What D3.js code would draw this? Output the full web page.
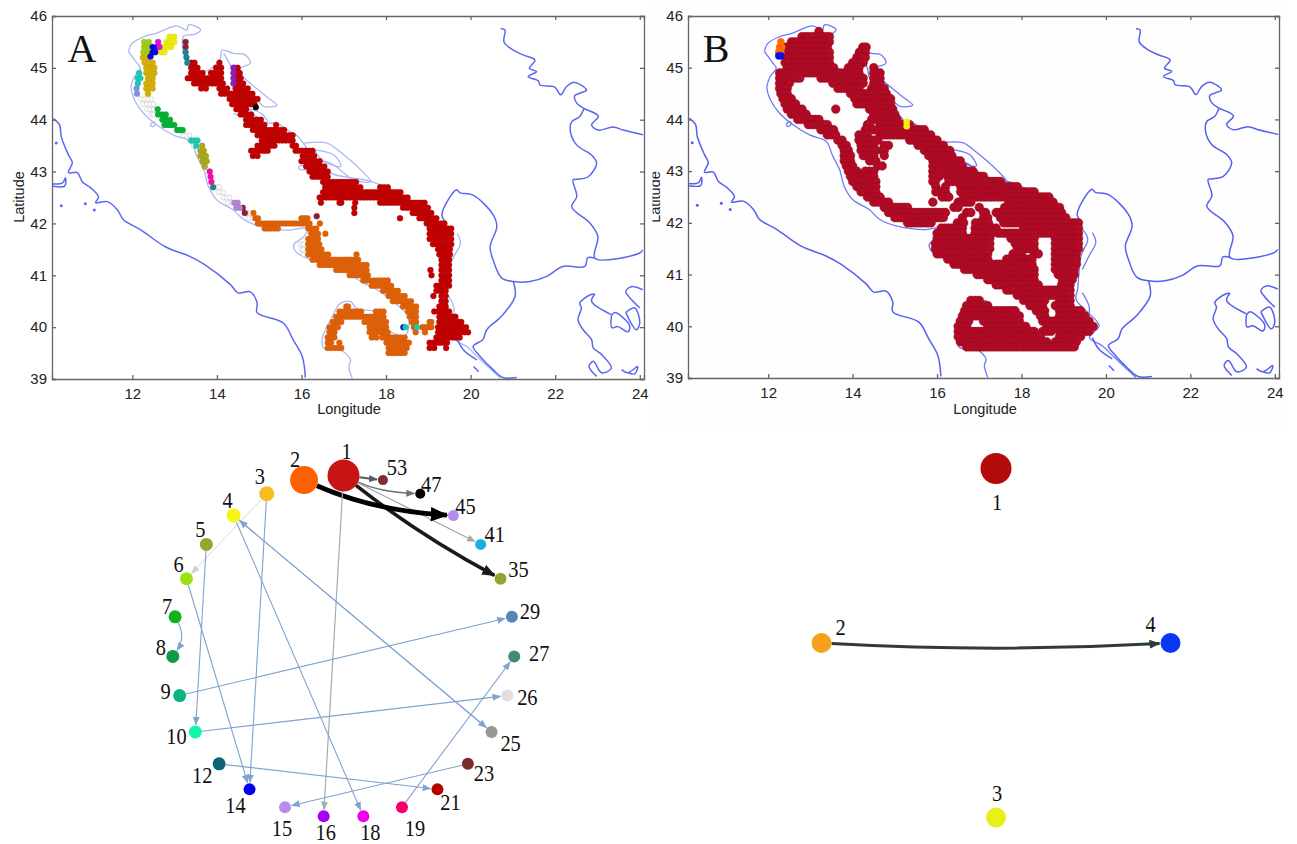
<!DOCTYPE html>
<html>
<head>
<meta charset="utf-8">
<script src="https://cdn.jsdelivr.net/npm/d3@7/dist/d3.min.js"></script>
<style>
  html, body { margin: 0; padding: 0; background: #fff; }
  svg { display: block; }
  .axis text { font-family: "Liberation Sans", Arial, sans-serif; font-size: 15px; fill: #222; }
  .axis path, .axis line { stroke: #666; stroke-width: 1.3; }
  .axis-title { font-family: "Liberation Sans", Arial, sans-serif; font-size: 14.5px; fill: #222; }
  .letter { font-family: "Liberation Serif", serif; font-size: 40px; fill: #111; }
  .node-label { font-family: "Liberation Serif", serif; font-size: 24px; fill: #111; text-anchor: middle; }
</style>
</head>
<body>
<svg id="fig" width="1297" height="844"></svg>
<script>
/* ---- map lines, [lon, lat] ---- */
const landBorderWest = [[10.13,44.02],[10.28,43.90],[10.32,43.67],[10.49,43.32],[10.58,43.17],[10.49,42.98],[10.70,42.98],[10.82,42.80],[11.01,42.69],[11.20,42.51],[11.13,42.40],[11.41,42.42],[11.65,42.26],[11.79,42.07],[12.19,41.88],[12.78,41.55],[13.37,41.36],[13.72,41.20],[14.32,40.82],[14.50,40.66],[14.79,40.68],[14.95,40.47],[14.95,40.28],[15.57,40.08],[15.80,39.76],[16.02,39.43],[16.09,39.03]];
const landBorderIsle = [[10.1,42.76],[10.35,42.78],[10.42,42.88],[10.4,42.72],[10.1,42.72]];
const landBorderNorth = [[20.71,45.76],[20.81,45.73],[20.79,45.50],[21.01,45.34],[21.24,45.25],[21.52,45.15],[21.39,44.99],[21.56,44.93],[21.36,44.83],[21.60,44.75],[21.64,44.67],[21.99,44.63],[22.13,44.48],[22.27,44.64],[22.46,44.72],[22.74,44.57],[22.58,44.51],[22.46,44.46],[22.51,44.32],[22.68,44.22],[23.02,44.07],[22.86,43.90],[23.02,43.80],[23.37,43.86],[23.61,43.80],[24.08,43.71]];
const landBorderMid = [[22.68,44.22],[22.58,44.06],[22.39,43.96],[22.36,43.77],[22.51,43.51],[22.86,43.32],[22.98,43.16],[22.78,42.90],[22.51,42.85],[22.42,42.84],[22.51,42.52],[22.39,42.32],[22.82,42.01],[23.01,41.75],[22.94,41.33],[24.0,41.43],[24.07,41.49]];
const landBorderAlbania = [[22.94,41.33],[22.77,41.34],[22.70,41.17],[22.18,41.17],[21.80,40.98],[21.40,40.88],[21.01,40.88],[20.73,40.95],[20.53,41.30],[20.46,41.55],[20.62,41.94],[20.53,42.17],[20.05,42.55],[19.75,42.59],[19.67,42.65],[19.32,42.17],[19.43,42.01]];
const landBorderGreece = [[21.01,40.88],[21.05,40.59],[20.73,40.21],[20.38,39.95],[20.29,39.76],[20.06,39.63],[20.22,39.44],[20.53,39.18],[20.76,39.03],[21.09,39.03]];
const aegeanCoast = [[22.94,40.64],[22.82,40.62],[22.58,40.46],[22.62,40.37],[22.54,40.14],[22.66,39.95],[22.86,39.76],[22.90,39.60],[23.10,39.47],[23.33,39.21],[23.10,39.12],[22.90,39.34],[22.80,39.24],[22.98,39.05]];
const aegeanGulf = [[22.94,40.64],[22.86,40.50],[23.33,40.24]];
const aegeanLoopA = [[23.33,40.22],[23.41,40.28],[23.76,40.03],[23.72,39.91],[23.48,40.01],[23.34,39.99],[23.33,40.22]];
const aegeanLoopB = [[24.07,40.72],[23.80,40.78],[23.67,40.69],[23.76,40.57],[24.0,40.37]];
const aegeanLoopC = [[23.67,40.28],[23.88,40.37],[24.0,40.08],[23.92,39.95],[23.67,40.28]];
const aegeanLoopD = [[23.57,39.18],[23.72,39.12],[23.95,39.24],[23.88,39.10],[23.72,39.12]];
const italyCoast = [[11.91,45.31],[12.11,45.09],[12.19,44.99],[12.05,44.83],[11.97,44.62],[12.07,44.35],[12.27,44.12],[12.58,43.90],[12.98,43.70],[13.37,43.58],[13.53,43.29],[13.69,43.03],[13.80,42.71],[14.0,42.45],[14.39,42.26],[14.64,42.07],[15.03,41.94],[15.66,41.87],[16.17,41.91],[16.06,41.75],[15.82,41.59],[15.86,41.46],[16.13,41.33],[16.61,41.20],[17.08,41.04],[17.47,40.85],[17.87,40.68],[18.18,40.49],[18.50,40.23],[18.54,40.01],[18.42,39.82],[18.18,39.88],[18.02,39.95],[17.87,40.27],[17.31,40.36],[17.16,40.49],[16.92,40.46],[16.69,40.14],[16.49,39.78],[16.53,39.59],[16.92,39.56],[17.16,39.37],[17.12,39.24],[17.20,39.01]];
const italyLoop = [[12.42,43.9],[12.5,43.96],[12.55,43.92],[12.47,43.86],[12.42,43.9]];
const istriaCoast = [[11.91,45.31],[11.99,45.47],[12.27,45.60],[12.58,45.67],[12.90,45.78],[13.06,45.81],[13.29,45.73],[13.33,45.83],[13.61,45.74],[13.49,45.65],[13.21,45.61],[13.20,45.34],[13.29,45.12],[13.53,44.99],[13.69,44.93],[13.92,45.02],[14.08,45.18],[14.12,45.34],[14.39,45.28],[14.67,45.25],[14.79,45.09],[14.55,44.99],[14.59,44.86],[14.94,44.60],[15.18,44.44],[15.42,44.28],[15.10,44.26],[14.87,44.48],[14.55,44.64],[14.39,44.83],[14.35,44.99],[14.16,45.28]];
const dalmatiaCoast = [[14.39,44.12],[15.10,43.93],[15.42,43.93],[15.73,43.77],[15.91,43.68],[16.30,43.26],[16.69,42.97],[17.64,42.81],[18.43,42.52],[19.06,42.07],[19.45,41.87],[19.57,41.68],[19.41,41.36],[19.33,40.72],[19.29,40.52],[19.49,40.33],[19.84,40.01],[19.61,39.78],[19.92,39.62],[20.16,39.43],[20.71,39.01]];
const islandsA = [[16.06,43.55],[16.61,43.55],[16.85,43.42],[17.48,42.97],[17.64,42.81],[17.24,42.84],[16.69,43.16],[16.30,43.23]];
const islandsB = [[16.30,43.42],[16.77,43.32],[16.93,43.10],[16.54,43.19],[16.30,43.42]];
const islandsC = [[15.94,43.10],[16.14,43.13],[16.14,43.05],[15.94,43.05],[15.94,43.10]];
const islandsD = [[14.73,44.22],[15.09,43.96],[15.2,43.96],[15.05,44.12],[14.73,44.22]];
const albaniaShelf = [[19.68,41.81],[19.76,41.62],[19.6,41.36],[19.44,41.1]];
const albaniaShelfB = [[19.44,40.65],[19.6,40.39],[19.6,40.2]];
const ionianShelf = [[19.68,39.78],[19.83,39.56],[20.15,39.37]];
const corfu = [[20.07,39.24],[20.19,39.14]];
const lakeDots = [[10.32,42.34],[10.89,42.38],[11.10,42.26],[10.2,43.55]];

/* ---- panel A clusters, rows are [lat, lon0, lon1, lon0, lon1 ...] ---- */
const clusterRed = [
  [45.1,13.33,13.53,14.0,14.16],[45.0,13.33,13.6,13.92,14.16,14.35,14.55],[44.9,13.33,13.72,13.8,14.16,14.35,14.6],
  [44.8,13.25,14.16,14.35,14.62],[44.7,13.4,14.2,14.38,14.68],[44.6,13.57,13.8,14.0,14.3,14.38,14.79],
  [44.5,14.04,14.9],[44.4,14.24,15.02],[44.3,14.3,14.95],[44.2,14.4,14.75],[44.1,14.5,14.87],[44.0,14.63,15.1],
  [43.9,14.63,15.18,15.34,15.5],[43.8,14.79,15.65],[43.7,14.9,15.85],[43.6,15.0,15.85],[43.5,14.9,15.42,15.73,15.93],
  [43.4,14.75,15.26,15.8,16.32],[43.3,14.79,15.02,15.97,16.36],[43.2,15.94,16.49],[43.1,16.05,16.6],[43.0,16.13,16.68],
  [42.9,16.2,16.68],[42.8,16.45,17.35],[42.7,16.5,17.45,17.8,18.1],[42.6,16.45,18.4],[42.5,16.37,18.57],
  [42.4,16.4,16.53,16.84,17.0,17.24,17.3,17.8,18.97],[42.3,17.2,17.3,18.34,19.05],[42.2,17.2,17.3,18.57,19.13],
  [42.1,18.3,18.36,18.73,19.25],[42.0,18.9,19.44],[41.9,18.97,19.6],[41.8,18.97,19.6],[41.7,18.97,19.6],[41.6,19.05,19.6],
  [41.5,19.17,19.57],[41.4,19.2,19.57],[41.3,19.25,19.55],[41.2,19.25,19.55],[41.1,19.0,19.1,19.25,19.55],[41.0,19.05,19.1,19.25,19.55],
  [40.9,19.25,19.55],[40.8,19.13,19.55],[40.7,19.13,19.47],[40.6,19.08,19.16,19.25,19.47],[40.5,19.25,19.47],[40.4,19.2,19.47],
  [40.3,19.08,19.55],[40.2,19.2,19.7],[40.1,19.2,19.84],[40.0,19.17,19.95],[39.9,19.17,20.0],[39.8,19.13,19.8],
  [39.7,18.97,19.5],[39.6,18.97,19.2,19.37,19.47]
];
const clusterOrange = [
  [42.2,14.83,14.9],[42.1,14.85,15.03,15.94,16.2],[42.0,14.91,16.25,16.4,16.47],[41.9,15.07,15.5,16.1,16.41],[41.8,16.17,16.45,16.53,16.6],
  [41.7,16.1,16.45],[41.6,16.1,16.48],[41.5,16.1,16.53],[41.4,16.1,16.69,17.25,17.35],[41.3,16.2,17.4],[41.2,16.37,17.6],
  [41.1,16.76,17.6],[41.0,17.08,17.63],[40.9,17.4,18.1],[40.8,17.6,18.18],[40.7,17.87,18.34],[40.6,18.0,18.5],[40.5,18.1,18.65],
  [40.4,17.0,17.16,18.34,18.77],[40.3,16.84,17.47,17.7,18.0,18.46,18.77],[40.2,16.76,18.0,18.5,18.77],
  [40.1,16.68,17.0,17.43,18.06,18.55,18.77,18.97,19.13],[40.0,16.6,16.92,17.55,18.06,18.6,18.77,18.8,19.13],
  [39.9,16.6,16.84,17.55,18.1,18.65,18.75,18.88,18.96],[39.8,16.56,16.84,17.6,17.83,17.85,18.5],[39.7,16.56,16.76,16.84,16.95,17.95,18.6],
  [39.6,16.56,17.0,18.0,18.55],[39.5,18.0,18.5]
];
const clusterGrey = [
  [44.4,12.15,12.5],[44.3,12.2,12.55],[44.2,12.3,12.55],[44.1,12.4,12.55],[43.8,13.05,13.2],[43.7,13.15,13.4],[43.5,13.4,13.5],
  [43.1,13.7,13.75],[43.0,13.72,13.85],[42.7,13.95,14.1],[42.6,14.0,14.2],[42.5,14.1,14.35],[42.4,14.2,14.4],[42.2,14.6,14.85],[42.1,14.7,14.9],
  [41.6,15.93,16.1],[41.5,15.95,16.1],[41.4,16.0,16.1]
];
const clusterGold = [[45.2,12.19,12.43],[45.1,12.23,12.54],[45.0,12.27,12.58],[44.9,12.27,12.58],[44.8,12.31,12.54],[44.7,12.27,12.54],[44.6,12.27,12.54],[44.5,12.31,12.43]];
const clusterLime = [[45.5,12.22,12.45],[45.4,12.22,12.42],[45.3,12.2,12.42]];
const clusterYellow = [[45.6,12.82,13.05],[45.5,12.75,13.05],[45.4,12.65,12.98],[45.3,12.62,12.82]];
const clusterBlue = [[45.4,12.42,12.65],[45.3,12.42,12.6],[45.22,12.4,12.46],[40.0,18.38,18.44]];
const clusterMagenta = [[45.5,12.55,12.7],[45.4,12.58,12.72]];
const clusterMaroon = [[45.5,13.2,13.35],[45.4,13.2,13.35],[42.3,14.55,14.7],[42.2,14.6,14.75],[42.14,16.33,16.39]];
const clusterTeal = [[45.3,13.2,13.35],[45.2,13.22,13.35],[45.1,13.25,13.35],[42.7,13.85,13.97]];
const clusterTurquoise = [[44.9,12.1,12.25],[44.8,12.07,12.25],[44.7,12.07,12.22],[43.6,13.33,13.6],[43.5,13.45,13.6],[40.0,18.43,18.49],[40.0,18.7,18.76]];
const clusterSteel = [[44.6,12.07,12.13],[44.5,12.07,12.15]];
const clusterGreen = [[44.2,12.55,12.65],[44.1,12.55,12.85],[44.0,12.65,12.95],[43.9,12.7,13.05],[43.8,13.0,13.25]];
const clusterOlive = [[43.5,13.6,13.7],[43.4,13.55,13.75],[43.3,13.55,13.8],[43.2,13.6,13.82],[43.1,13.65,13.8]];
const clusterPink = [[43.0,13.78,13.88],[42.9,13.8,13.9],[42.8,13.82,13.92]];
const clusterLilac = [[42.4,14.35,14.55],[42.3,14.4,14.6]];
const clusterViolet = [[45.0,14.36,14.42],[44.9,14.36,14.42],[44.8,14.36,14.42],[44.7,14.36,14.42]];
const clusterBlack = [[44.24,14.89,14.95]];

/* ---- panel B clusters ---- */
const clusterBMain = [
  [45.7,13.2,13.2],[45.6,12.8,13.45],[45.5,12.55,13.45],[45.4,12.43,13.4,14.24,14.32],[45.3,12.43,13.0,13.12,13.45,14.16,14.3],
  [45.2,12.43,12.8,12.95,13.05,13.2,13.45,14.1,14.3],[45.1,12.4,13.45,14.0,14.25],[45.0,12.45,13.55,13.9,14.15,14.5,14.5],
  [44.9,12.27,12.6,12.8,13.7,13.8,14.15,14.5,14.65],[44.8,12.27,12.75,13.25,14.25,14.5,14.65],[44.7,12.27,12.5,13.53,14.25,14.5,14.65],
  [44.6,12.27,12.45,13.65,14.15,14.45,14.75],[44.5,12.3,12.45,13.95,14.8],[44.4,12.35,12.55,14.05,14.9],[44.3,12.4,12.65,14.1,14.9],
  [44.2,12.45,12.8,13.6,13.6,14.4,14.95],[44.1,12.55,12.9,14.5,15.0],[44.0,12.7,13.2,14.45,15.05],[43.9,12.95,13.4,14.35,14.4,14.65,15.35],
  [43.8,13.25,13.55,14.3,14.35,14.5,14.7,14.9,15.7],[43.7,13.4,13.6,14.15,14.35,14.65,15.85],[43.6,13.65,13.75,14.15,14.6,15.35,16.0],
  [43.5,13.75,13.85,14.2,14.5,14.75,14.85,15.55,16.15],[43.4,13.8,13.9,14.2,14.55,14.7,14.75,15.7,16.3],[43.3,13.8,13.95,14.25,14.5,14.75,14.75,15.8,16.35],
  [43.2,13.8,13.95,14.4,14.55,15.9,16.55],[43.1,13.85,14.0,14.6,14.7,15.9,16.6],[43.0,13.9,14.1,14.3,14.5,15.9,16.85],
  [42.9,13.95,14.5,15.9,16.05,16.25,17.1],[42.8,14.0,14.55,15.9,15.96,16.28,17.5],[42.7,14.1,14.55,15.97,16.0,16.2,16.23,16.56,17.9],
  [42.6,14.2,14.55,15.97,16.2,16.56,18.3],[42.5,14.35,14.65,16.12,16.28,16.63,18.65],[42.4,14.5,14.85,15.9,15.9,16.5,16.8,17.7,18.75],
  [42.3,14.75,15.3,16.4,16.5,17.0,17.0,17.6,18.9],[42.2,14.85,16.2,16.7,16.8,17.1,17.15,17.4,18.95],[42.1,15.0,16.15,16.6,16.6,17.1,17.2,17.5,19.05],
  [42.0,15.3,15.86,16.48,16.63,16.91,17.22,17.58,19.35],[41.9,16.1,16.6,16.9,17.4,18.05,19.35],[41.8,16.0,16.6,16.9,17.3,17.45,19.35],
  [41.7,16.0,17.25,17.75,18.3,18.8,19.35],[41.6,15.96,17.25,17.85,18.3,18.8,19.35],[41.5,15.96,17.25,17.9,18.3,18.8,19.35],
  [41.4,16.0,17.2,17.8,18.0,18.3,18.4,18.8,19.3],[41.3,16.25,17.2,17.65,18.25,18.8,19.3],[41.2,16.4,17.3,17.4,18.25,18.8,19.3],
  [41.1,16.65,18.3,18.8,19.25],[41.0,16.95,18.3,18.87,19.25],[40.9,17.2,18.3,18.97,19.2],[40.8,17.4,18.4,18.95,19.15],[40.7,17.65,19.15],[40.6,17.9,19.15],
  [40.5,16.8,17.0,18.05,18.55,18.9,19.15],[40.4,16.7,17.2,18.2,18.5,18.8,19.15],[40.3,16.65,17.85,18.35,18.55,18.9,19.4],
  [40.2,16.6,17.95,18.45,18.55,18.9,19.5],[40.1,16.55,16.75,17.1,17.95,18.5,18.75,18.8,19.6],[40.0,16.5,16.7,17.2,18.1,18.6,18.95,19.05,19.7],
  [39.9,16.5,18.3,18.5,18.7,18.9,19.6],[39.8,16.5,18.45,18.9,19.4],[39.7,16.55,18.6,18.8,19.3],[39.6,16.7,19.25]
];
const clusterBOrange = [[45.5,12.3,12.32],[45.4,12.27,12.32],[45.3,12.25,12.3]];
const clusterBBlue = [[45.23,12.25,12.3]];
const clusterBYellow = [[43.95,15.28,15.3],[43.87,15.28,15.3]];

const lonTicks = [12,14,16,18,20,22,24];
const latTicks = [39,40,41,42,43,44,45,46];

/* ---- network A ---- */
const netAIds = [1,2,3,4,5,6,7,8,9,10,12,14,15,16,18,19,21,23,25,26,27,29,35,41,45,47,53];
const netASizes = [16,14,7.5,7,6.5,6.5,6.5,6.5,6.5,6.5,6.5,6,6,6,6,6,6,6,6,6,6,6,6,5.5,5.5,5,5];
const netAColors = ["#c81414","#ff5f00","#f6bc20","#f6f610","#95a52e","#9fe010","#10b418","#0f9a48","#0db380","#10f5a8","#0c6474","#0000ee","#b68cf0","#a800f8","#ee00ee","#f8006c","#b80000","#7e2a2a","#9a9694","#e0dede","#3f8a7c","#5787b8","#93a430","#1cb0e0","#b48cf4","#000000","#7e2e30"];
const netAEdges = [[1,53,2],[1,47,1.5],[1,41,1.2],[1,35,3.6],[2,45,4.8],[1,16,1.2],[3,6,0.9],[3,14,1.1],[5,10,1.1],[6,14,1.1],[4,18,1.1],[4,25,1.1],[25,4,1.1],[9,29,1.1],[10,26,1.1],[12,21,1.1],[23,15,1.1],[19,27,1.1],[7,8,1.1]];
const netAEdgeColors = ["#555b5e","#6a7074","#a4a8a8","#1a1a1a","#000000","#a3adb0","#cdd4d0","#7ea4d0","#7ea4d0","#7ea4d0","#7ea4d0","#7ea4d0","#7ea4d0","#7ea4d0","#7ea4d0","#7ea4d0","#7ea4d0","#7ea4d0","#7ea4d0"];
const netAEdgeBends = [0,0.1,0,0.044,0.09,0,0,0,0,0,0,0,0,0,0,0,0,0,-0.3];

/* ---- network B ---- */
const netBIds = [1,2,3,4];
const netBSizes = [15.5,10,10,10];
const netBColors = ["#b30b0b","#f7a11a","#e9f019","#0a37f0"];
const netBEdges = [[2,4,3]];
const netBEdgeColors = ["#2f3a3e"];
const netBEdgeBends = [0.028];

const svg = d3.select("#fig");
svg.append("rect").attr("x",650).attr("y",0).attr("width",638).attr("height",428).attr("fill","#fefefe");
const defs = svg.append("defs");

/* ---- helpers ---- */
function rowsToDots(rows, step, inset) {
  const out = [];
  rows.forEach(r => {
    for (let i = 1; i < r.length; i += 2) {
      let lo = r[i] + inset, hi = r[i + 1] - inset;
      if (lo > hi) { lo = hi = (r[i] + r[i + 1]) / 2; }
      const n = Math.round((hi - lo) / step);
      d3.range(n + 1).forEach(k => out.push([n ? lo + k * (hi - lo) / n : lo, r[0]]));
    }
  });
  return out;
}

function drawPanel(name, box, lines, layers, letter, clipLat) {
  const x = d3.scaleLinear().domain([10.1, 24.1]).range([box.left, box.right]);
  const y = d3.scaleLinear().domain([39, 46]).range([box.bottom, box.top]);
  const g = svg.append("g").attr("class", name);

  defs.append("clipPath").attr("id", "clip-" + name).append("rect")
    .attr("x", box.left).attr("y", box.top).attr("width", box.right - box.left).attr("height", box.bottom - box.top);
  const plot = g.append("g").attr("clip-path", `url(#clip-${name})`);
  const line = d3.line().x(d => x(d[0])).y(d => y(d[1])).curve(d3.curveCatmullRom.alpha(0.5));

  plot.selectAll("path.shelf").data(lines.shelf).join("path").attr("class", "shelf")
    .attr("d", line).attr("fill", "none").attr("stroke", box.shelfColor).attr("stroke-width", 1.3);
  plot.selectAll("path.land").data(lines.land).join("path").attr("class", "land")
    .attr("d", line).attr("fill", "none").attr("stroke", box.landColor).attr("stroke-width", 1.5);
  plot.selectAll("circle.lake").data(lakeDots).join("circle").attr("class", "lake")
    .attr("cx", d => x(d[0])).attr("cy", d => y(d[1])).attr("r", 1.5).attr("fill", box.landColor);

  layers.forEach(l => {
    plot.append("g").selectAll("circle").data(rowsToDots(l.rows, l.step, l.inset)).join("circle")
      .attr("cx", d => x(d[0])).attr("cy", d => y(d[1])).attr("r", l.r)
      .attr("fill", l.fill).attr("stroke", l.stroke).attr("stroke-width", l.sw);
  });

  g.append("g").attr("class", "axis").attr("transform", `translate(0,${box.bottom})`)
    .call(d3.axisBottom(x).tickValues(lonTicks).tickSize(-4).tickPadding(9).tickFormat(d3.format("d")));
  g.append("g").attr("class", "axis").attr("transform", `translate(0,${box.top})`)
    .call(d3.axisTop(x).tickValues(lonTicks).tickSize(-4).tickFormat(""));
  g.append("g").attr("class", "axis").attr("transform", `translate(${box.left},0)`)
    .call(d3.axisLeft(y).tickValues(latTicks).tickSize(-4).tickPadding(5).tickFormat(d3.format("d")));
  g.append("g").attr("class", "axis").attr("transform", `translate(${box.right},0)`)
    .call(d3.axisRight(y).tickValues(latTicks).tickSize(-4).tickFormat(""));

  g.append("text").attr("class", "axis-title").attr("text-anchor", "middle")
    .attr("x", box.left + 297).attr("y", 414).text("Longitude");
  const lat = g.append("text").attr("class", "axis-title").attr("text-anchor", "middle")
    .attr("transform", `translate(${box.left - 28},197) rotate(-90)`).text("Latitude");
  if (clipLat) {
    defs.append("clipPath").attr("id", "clip-lat").append("rect").attr("x", 652.5).attr("y", 150).attr("width", 20).attr("height", 100);
    g.append("g").attr("clip-path", "url(#clip-lat)").node().appendChild(lat.node());
  }
  g.append("text").attr("class", "letter").attr("text-anchor", "middle")
    .attr("x", box.left + letter.dx).attr("y", 62).text(letter.text);
}

// network drawn on a circle, first id at the top and going round anticlockwise
function drawNetwork(name, cx, cy, R, ids, sizes, colors, edges, edgeColors, bends, labelOffsets) {
  const angle = d3.scaleBand().domain(ids).range([0, 360]);
  const rScale = d3.scaleLinear().domain([0, 16]).range([0, 16]);
  const pos = id => {
    const a = -angle(id) * Math.PI / 180;
    return [cx + R * Math.sin(a), cy - R * Math.cos(a)];
  };
  const radius = id => rScale(sizes[ids.indexOf(id)]);
  const g = svg.append("g").attr("class", name);

  edges.forEach((e, i) => {
    const [s, t, w] = e;
    const head = Math.max(7, w * 3);
    const mid = `arrow-${name}-${i}`;
    defs.append("marker").attr("id", mid).attr("markerUnits", "userSpaceOnUse")
      .attr("viewBox", "0 0 10 10").attr("refX", 9).attr("refY", 5)
      .attr("markerWidth", head * 1.25).attr("markerHeight", head)
      .attr("orient", "auto").attr("preserveAspectRatio", "none")
      .append("path").attr("d", "M0,0L10,5L0,10Z").attr("fill", edgeColors[i]);

    const [x0, y0] = pos(s), [x1, y1] = pos(t);
    const dx = x1 - x0, dy = y1 - y0;
    const mx = (x0 + x1) / 2 - dy * bends[i], my = (y0 + y1) / 2 + dx * bends[i];
    const a0 = Math.atan2(my - y0, mx - x0), a1 = Math.atan2(my - y1, mx - x1);
    const p = d3.path();
    p.moveTo(x0 + Math.cos(a0) * radius(s), y0 + Math.sin(a0) * radius(s));
    p.quadraticCurveTo(mx, my, x1 + Math.cos(a1) * (radius(t) + 1), y1 + Math.sin(a1) * (radius(t) + 1));
    g.append("path").attr("d", p.toString()).attr("fill", "none")
      .attr("stroke", edgeColors[i]).attr("stroke-width", w).attr("marker-end", `url(#${mid})`);
  });

  g.selectAll("circle").data(ids).join("circle")
    .attr("cx", d => pos(d)[0]).attr("cy", d => pos(d)[1]).attr("r", radius)
    .attr("fill", (d, i) => colors[i]);
  g.selectAll("text").data(ids).join("text").attr("class", "node-label")
    .attr("transform", d => `translate(${pos(d)[0] + labelOffsets[d][0]},${pos(d)[1] + labelOffsets[d][1]}) scale(0.85,1)`)
    .attr("dy", "0.35em").text(d => d);
}

/* ---- panels ---- */
const shelfLines = [italyCoast, italyLoop, istriaCoast, dalmatiaCoast, islandsA, islandsB, islandsC, islandsD, albaniaShelf, albaniaShelfB];
const landLines = [landBorderWest, landBorderIsle, landBorderNorth, landBorderMid, landBorderAlbania, landBorderGreece, aegeanCoast, aegeanGulf, aegeanLoopA, aegeanLoopB, aegeanLoopC, aegeanLoopD, ionianShelf, corfu];

const a = (rows, fill, dark) => ({ rows, step: 0.08, inset: 0.06, r: 3, fill, stroke: dark, sw: 0.2 });
drawPanel("panel-a",
  { left: 52, right: 644, top: 16, bottom: 379, shelfColor: "#aab7f4", landColor: "#5a68f0" },
  { shelf: shelfLines, land: landLines },
  [
    { rows: clusterGrey, step: 0.08, inset: 0.05, r: 2.4, fill: "#fff", stroke: "#c8c8c8", sw: 0.7 },
    a(clusterRed, "#c40000", "#8c0505"), a(clusterOrange, "#e06008", "#b85a10"),
    a(clusterGold, "#d6ad08", "#a89020"), a(clusterLime, "#9ccf10", "#88aa20"), a(clusterYellow, "#ecec08", "#b8b840"),
    a(clusterBlue, "#0808e0", "#0808a0"), a(clusterMagenta, "#e410d0", "#a010a0"), a(clusterMaroon, "#8c2038", "#701828"),
    a(clusterTeal, "#1e8294", "#186878"), a(clusterTurquoise, "#20c8b0", "#18a090"), a(clusterSteel, "#7c94d8", "#6878b8"),
    a(clusterGreen, "#08b038", "#088a30"), a(clusterOlive, "#aaa820", "#888818"), a(clusterPink, "#f010a0", "#c01080"),
    a(clusterLilac, "#b684d4", "#9870b0"), a(clusterViolet, "#9020b8", "#701890"), a(clusterBlack, "#000", "#000")
  ],
  { text: "A", dx: 30 }, false);

const b = (rows, fill, r) => ({ rows, step: 0.08, inset: 0, r, fill, stroke: fill, sw: 0.3 });
drawPanel("panel-b",
  { left: 688, right: 1279, top: 16, bottom: 378, shelfColor: "#6f7bf5", landColor: "#5560f0" },
  { shelf: shelfLines, land: landLines },
  [
    { rows: clusterBMain, step: 0.08, inset: 0, r: 4.4, fill: "#b30a26", stroke: "#8a0a1e", sw: 0.4 },
    b(clusterBOrange, "#ff6a00", 3.6), b(clusterBBlue, "#0a10e0", 3.6), b(clusterBYellow, "#f2f208", 3.2)
  ],
  { text: "B", dx: 28 }, true);

/* ---- networks ---- */
const labelOffsetsA = {
  1:[3,-25],2:[-9,-22],3:[-7,-18],4:[-6,-16],5:[-6,-16],6:[-8,-15],7:[-8,-11],8:[-12,-10],9:[-14,-5],10:[-19,4],
  12:[-17,11],14:[-14,15],15:[-3,20],16:[2,15],18:[7,15],19:[13,20],21:[13,12],23:[16,9],25:[19,11],26:[20,1],
  27:[25,-4],29:[18,-6],35:[18,-10],41:[14,-11],45:[12,-10],47:[11,-10],53:[14,-14]
};
const labelOffsetsB = { 1:[1,33], 2:[19,-16], 3:[1,-25], 4:[-20,-19] };

drawNetwork("net-a", 343.5, 646.5, 171, netAIds, netASizes, netAColors, netAEdges, netAEdgeColors, netAEdgeBends, labelOffsetsA);
drawNetwork("net-b", 996, 643, 174.5, netBIds, netBSizes, netBColors, netBEdges, netBEdgeColors, netBEdgeBends, labelOffsetsB);
</script>
</body>
</html>
